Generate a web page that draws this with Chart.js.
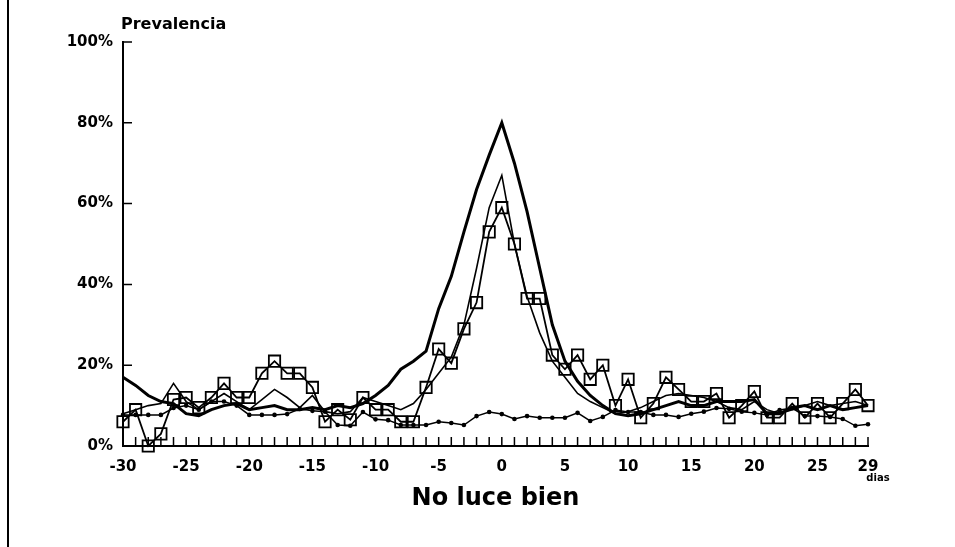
<!DOCTYPE html>
<html>
<head>
<meta charset="utf-8">
<script src="https://cdn.jsdelivr.net/npm/chart.js@4/dist/chart.umd.min.js"></script>
<style>
    body { margin: 0; background: #fff; }
    #wrap { position: relative; width: 955px; height: 547px; }
</style>
</head>
<body>
<div id="wrap"><canvas id="myChart" width="955" height="547"></canvas></div>
<script>
// dias relativos al episodio
var days = [-30, -29, -28, -27, -26, -25, -24, -23, -22, -21,
            -20, -19, -18, -17, -16, -15, -14, -13, -12, -11,
            -10, -9, -8, -7, -6, -5, -4, -3, -2, -1,
            0, 1, 2, 3, 4, 5, 6, 7, 8, 9,
            10, 11, 12, 13, 14, 15, 16, 17, 18, 19,
            20, 21, 22, 23, 24, 25, 26, 27, 28, 29];

// serie con cuadrados
var squares = [6, 9, 0, 3, 11.5, 12, 9.5, 12, 15.5, 12,
               12, 18, 21, 18, 18, 14.5, 6, 9, 6.5, 12,
               9, 9, 6, 6, 14.5, 24, 20.5, 29, 35.5, 53,
               59, 50, 36.5, 36.5, 22.5, 19, 22.5, 16.5, 20, 10,
               16.5, 7, 10.5, 17, 14, 11, 11, 13, 7, 10,
               13.5, 7, 7, 10.5, 7, 10.5, 7, 10.5, 14, 10];

// linea gruesa (pico 80%)
var thick = [17, 15, 12.5, 11, 10.5, 8, 7.5, 9, 10, 10.5,
             9, 9.5, 10, 9, 9, 9.5, 9, 10, 9.5, 10.5,
             12.5, 15, 19, 21, 23.5, 34, 42, 53, 63.5, 72,
             80, 70, 58, 44, 30, 21, 16, 12.5, 10, 8,
             7.5, 8, 9, 10, 11, 10, 10, 11, 11, 11,
             11.5, 8, 8, 9.5, 10, 9, 10, 9, 9.5, 10];

// linea fina (pico 67%)
var thin = [8, 9, 10, 10.5, 15.5, 11, 9, 11, 13, 11,
            9, 11.5, 14, 12, 9.5, 12.5, 8.5, 8, 8.5, 12,
            11, 10, 9, 10.5, 14, 18, 22, 30, 44, 59,
            67, 50, 37, 28, 21, 17, 13, 11, 9.5, 8,
            8.5, 9.5, 11, 12.5, 13, 12.5, 12, 11, 9.5, 9,
            11, 9, 8, 9, 10, 11, 10, 10.5, 11, 10];

// linea con puntos
var dots = [7.7, 7.7, 7.7, 7.7, 9.4, 10, 9, 11, 11, 10,
            7.7, 7.7, 7.7, 7.9, 9.2, 8.7, 8.5, 5.2, 5, 8.4,
            6.6, 6.4, 5.2, 5.2, 5.2, 6, 5.7, 5.2, 7.4, 8.4,
            7.9, 6.7, 7.4, 7, 7, 7, 8.2, 6.2, 7.2, 8.9,
            8.4, 8.4, 7.7, 7.7, 7.2, 8, 8.5, 9.4, 9.2, 8.5,
            8.2, 7.7, 8.9, 9.4, 7.4, 7.4, 7.2, 6.7, 5, 5.4];

var xTicks = [-30, -25, -20, -15, -10, -5, 0, 5, 10, 15, 20, 25, 29];
var yTicks = [0, 20, 40, 60, 80, 100];

function pts(arr) {
    return arr.map(function (v, i) { return { x: days[i], y: v }; });
}

var labelFont = { family: 'DejaVu Sans', weight: 'bold', size: 15 };

// marcas hacia adentro, borde izquierdo, textos sueltos
var extras = {
    id: 'extras',
    afterDraw: function (chart) {
        var ctx = chart.ctx;
        var xs = chart.scales.x, ys = chart.scales.y;
        var y0 = ys.getPixelForValue(0);
        var x0 = xs.getPixelForValue(-30);
        ctx.save();
        ctx.strokeStyle = '#000';
        ctx.lineWidth = 1.5;
        ctx.beginPath();
        days.forEach(function (d) {
            var px = xs.getPixelForValue(d);
            ctx.moveTo(px, y0);
            ctx.lineTo(px, y0 - 9);
        });
        yTicks.forEach(function (v) {
            var py = ys.getPixelForValue(v);
            ctx.moveTo(x0, py);
            ctx.lineTo(x0 + 9, py);
        });
        ctx.stroke();

        ctx.lineWidth = 2;
        ctx.beginPath();
        ctx.moveTo(8, 0);
        ctx.lineTo(8, 547);
        ctx.stroke();

        ctx.fillStyle = '#000';
        ctx.font = 'bold 16px "DejaVu Sans"';
        ctx.textAlign = 'left';
        ctx.textBaseline = 'alphabetic';
        ctx.fillText('Prevalencia', 121, 29);

        ctx.font = 'bold 10px "DejaVu Sans"';
        ctx.textAlign = 'center';
        ctx.fillText('dias', xs.getPixelForValue(29) + 10, 481);
        ctx.restore();
    }
};

document.addEventListener("DOMContentLoaded", () => {
    var ctx = document.getElementById('myChart').getContext('2d');
    var chart = new Chart(ctx, {
        type: 'line',
        data: {
            datasets: [{
                label: 'Puntos',
                data: pts(dots),
                borderColor: '#000',
                backgroundColor: '#000',
                borderWidth: 1.5,
                pointRadius: 2.3,
                pointBorderWidth: 0,
                clip: false
            },
            {
                label: 'Gruesa',
                data: pts(thick),
                borderColor: '#000',
                borderWidth: 3,
                pointRadius: 0,
                clip: false
            },
            {
                label: 'Fina',
                data: pts(thin),
                borderColor: '#000',
                borderWidth: 1.6,
                pointRadius: 0,
                clip: false
            },
            {
                label: 'Cuadrados',
                data: pts(squares),
                borderColor: '#000',
                backgroundColor: 'rgba(0,0,0,0)',
                borderWidth: 1.8,
                pointStyle: 'rect',
                pointRadius: 8,
                pointBorderWidth: 1.8,
                clip: false
            }]
        },
        options: {
            responsive: false,
            animation: false,
            layout: { padding: { left: 0, right: 87, top: 42, bottom: 0 } },
            plugins: {
                legend: { display: false },
                tooltip: { enabled: false }
            },
            scales: {
                x: {
                    type: 'linear',
                    min: -30,
                    max: 29,
                    afterBuildTicks: function (scale) {
                        scale.ticks = xTicks.map(function (v) { return { value: v }; });
                    },
                    afterFit: function (scale) { scale.height = 101; },
                    grid: { display: false, drawTicks: false },
                    border: { display: true, color: '#000', width: 2 },
                    ticks: {
                        color: '#000',
                        font: labelFont,
                        padding: 12,
                        maxRotation: 0,
                        autoSkip: false
                    },
                    title: {
                        display: true,
                        text: 'No luce bien',
                        color: '#000',
                        font: { family: 'DejaVu Sans', weight: 'bold', size: 24 },
                        padding: { top: 0, bottom: 34 }
                    }
                },
                y: {
                    min: 0,
                    max: 100,
                    afterBuildTicks: function (scale) {
                        scale.ticks = yTicks.map(function (v) { return { value: v }; });
                    },
                    afterFit: function (scale) { scale.width = 123; },
                    grid: { display: false, drawTicks: false },
                    border: { display: true, color: '#000', width: 2 },
                    ticks: {
                        color: '#000',
                        font: labelFont,
                        padding: 10,
                        callback: function (v) { return v + '%'; }
                    }
                }
            }
        },
        plugins: [extras]
    });
});
</script>
</body>
</html>
